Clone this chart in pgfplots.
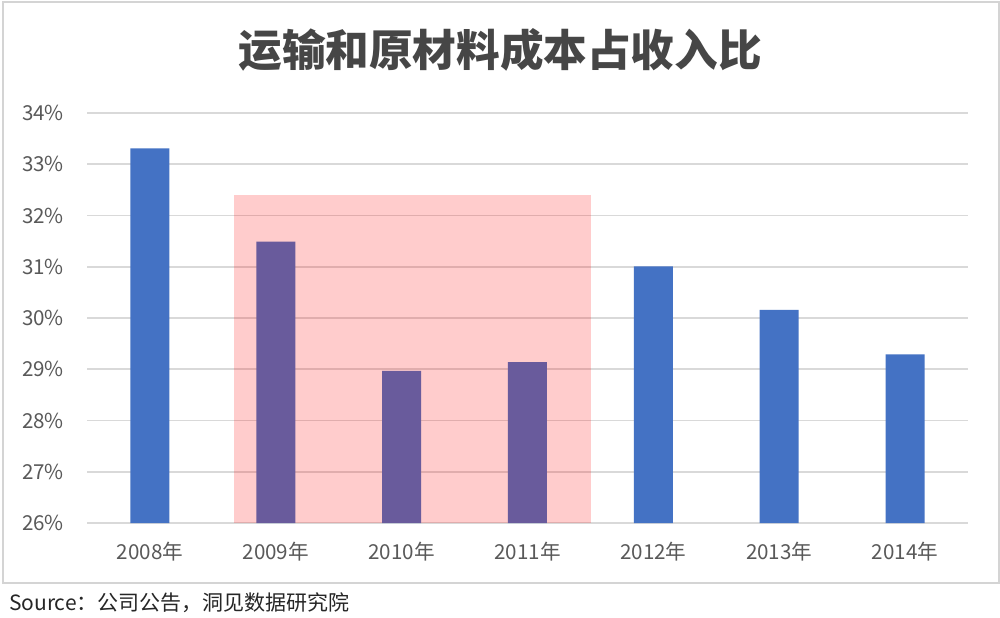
\documentclass[border=0pt]{standalone}
\usepackage{pgfplots}
\pgfplotsset{compat=1.18}
\usepackage{fontspec}
\setmainfont{Noto Sans CJK SC}

\definecolor{barblue}{RGB}{68,114,196}
\definecolor{gridgray}{RGB}{217,217,217}
\definecolor{framegray}{RGB}{212,212,212}
\definecolor{labelgray}{RGB}{89,89,89}
\definecolor{titlegray}{RGB}{70,70,70}

\pgfplotstableread{
x  val
0  33.31
1  31.49
2  28.97
3  29.14
4  31.01
5  30.16
6  29.29
}\costdata

\begin{document}
\begin{tikzpicture}[x=1pt,y=1pt]
\useasboundingbox (0,0) rectangle (500,308.5);
\fill[white] (0,0) rectangle (500,308.5);
\draw[framegray, line width=1pt] (1.5,17) rectangle (499.5,307.5);
\node[font=\bfseries\fontsize{21.8}{21.8}\selectfont, text=titlegray] at (250,283.5) {运输和原材料成本占收入比};
\node[anchor=west, font=\fontsize{10.5}{10.5}\selectfont, text=black!85] at (1,7) {Source：公司公告，洞见数据研究院};

\begin{axis}[
    at={(43.5pt,47pt)}, anchor=south west,
    scale only axis,
    width=440.5pt, height=205pt,
    xmin=-0.5, xmax=6.5,
    ymin=26, ymax=34,
    axis line style={draw=none},
    major tick length=0pt,
    ymajorgrids,
    grid style={gridgray, line width=0.8pt},
    ytick={26,27,...,34},
    yticklabels={26\%,27\%,28\%,29\%,30\%,31\%,32\%,33\%,34\%},
    xtick={0,1,...,6},
    xticklabels={2008年,2009年,2010年,2011年,2012年,2013年,2014年},
    ticklabel style={font=\fontsize{10.3}{10.3}\selectfont, text=labelgray},
    yticklabel style={xshift=-8pt},
    xticklabel style={yshift=-6pt},
    /pgf/number format/assume math mode=true,
]
    \addplot[ybar, bar width=19.5pt, fill=barblue, draw=none] table[x=x, y=val] {\costdata};
    \fill[red, fill opacity=0.2] (axis cs:0.667,26) rectangle (axis cs:3.508,32.4);
\end{axis}
\end{tikzpicture}
\end{document}
